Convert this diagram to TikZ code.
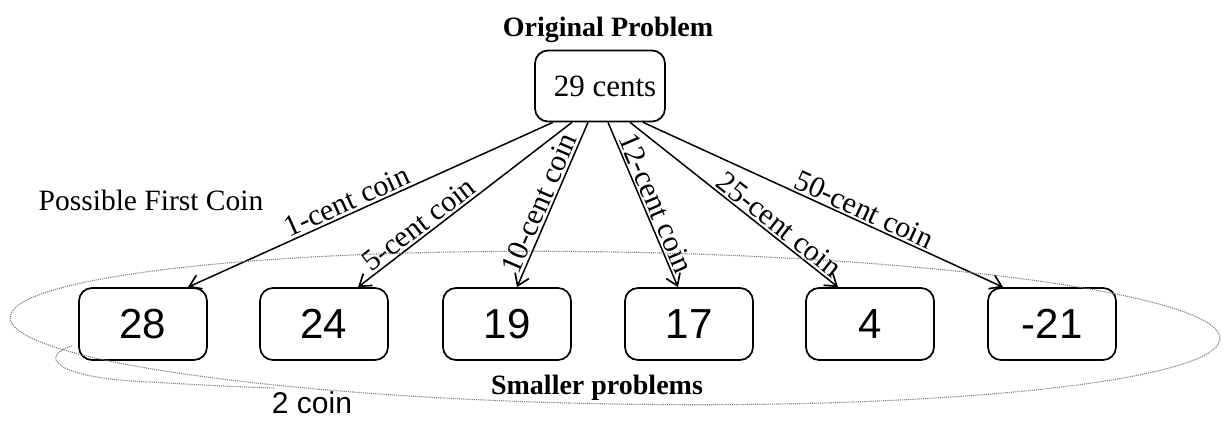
\documentclass[tikz,border=0pt]{standalone}
\usepackage{fontspec}
\setmainfont{Liberation Serif}
\newfontfamily\handfont{Liberation Sans}
\usetikzlibrary{arrows.meta}
\tikzset{
  probbox/.style={draw, line width=1.7pt, rounded corners=13pt, minimum width=128pt, minimum height=72pt, inner sep=0pt},
  coinarrow/.style={line width=1.5pt, -{Straight Barb[length=11pt,width=15pt,line width=1.7pt]}},
  coinlabel/.style={sloped, above, inner sep=2pt, font=\fontsize{30}{32}\selectfont},
  handnum/.style={font=\handfont\fontsize{42}{44}\selectfont},
  titletext/.style={font=\bfseries\fontsize{28}{30}\selectfont},
  handloop/.style={gray, densely dotted, line width=1.1pt}
}
\begin{document}
\begin{tikzpicture}[x=1pt,y=-1pt]
\useasboundingbox (0,0) rectangle (1223,428);

\node[titletext] (title) at (608,30) {Original Problem};
\node[probbox, minimum width=130pt, minimum height=71pt, font=\fontsize{31}{33}\selectfont] (top) at (600,86) {\hspace{10pt}29 cents};

\node[probbox, handnum] (b1) at (143,324) {28};
\node[probbox, handnum] (b2) at (324,324) {24};
\node[probbox, handnum] (b3) at (507,324) {19};
\node[probbox, handnum] (b4) at (689,324) {17};
\node[probbox, handnum] (b5) at (870,324) {4};
\node[probbox, handnum] (b6) at (1052,324) {-21};

\node[font=\fontsize{29.5}{31}\selectfont] (pfc) at (151,200) {Possible First Coin};
\node[titletext] (small) at (597,388) {Smaller problems};
\node[font=\handfont\fontsize{30}{32}\selectfont] (twocoin) at (312,403) {2 coin};

\draw[coinarrow] ([xshift=-47pt]top.south) -- node[coinlabel, pos=0.55] {1-cent coin} ([xshift=45pt]b1.north);
\draw[coinarrow] ([xshift=-28pt]top.south) -- node[coinlabel, pos=0.68] {5-cent coin} ([xshift=34pt]b2.north);
\draw[coinarrow] ([xshift=-12pt]top.south) -- node[coinlabel, pos=0.52] {10-cent coin} ([xshift=10pt]b3.north);
\draw[coinarrow] ([xshift=8pt]top.south) -- node[coinlabel, pos=0.52] {12-cent coin} ([xshift=-11pt]b4.north);
\draw[coinarrow] ([xshift=30pt]top.south) -- node[coinlabel, pos=0.68] {25-cent coin} ([xshift=-32pt]b5.north);
\draw[coinarrow] ([xshift=43pt]top.south) -- node[coinlabel, pos=0.6] {50-cent coin} ([xshift=-49pt]b6.north);

\draw[handloop, rotate around={-1:(615,328)}] (615,328) ellipse [x radius=605, y radius=76];
\draw[handloop] (72,346) .. controls (40,355) and (50,378) .. (150,382) .. controls (200,385) and (240,387) .. (275,388);
\end{tikzpicture}
\end{document}
